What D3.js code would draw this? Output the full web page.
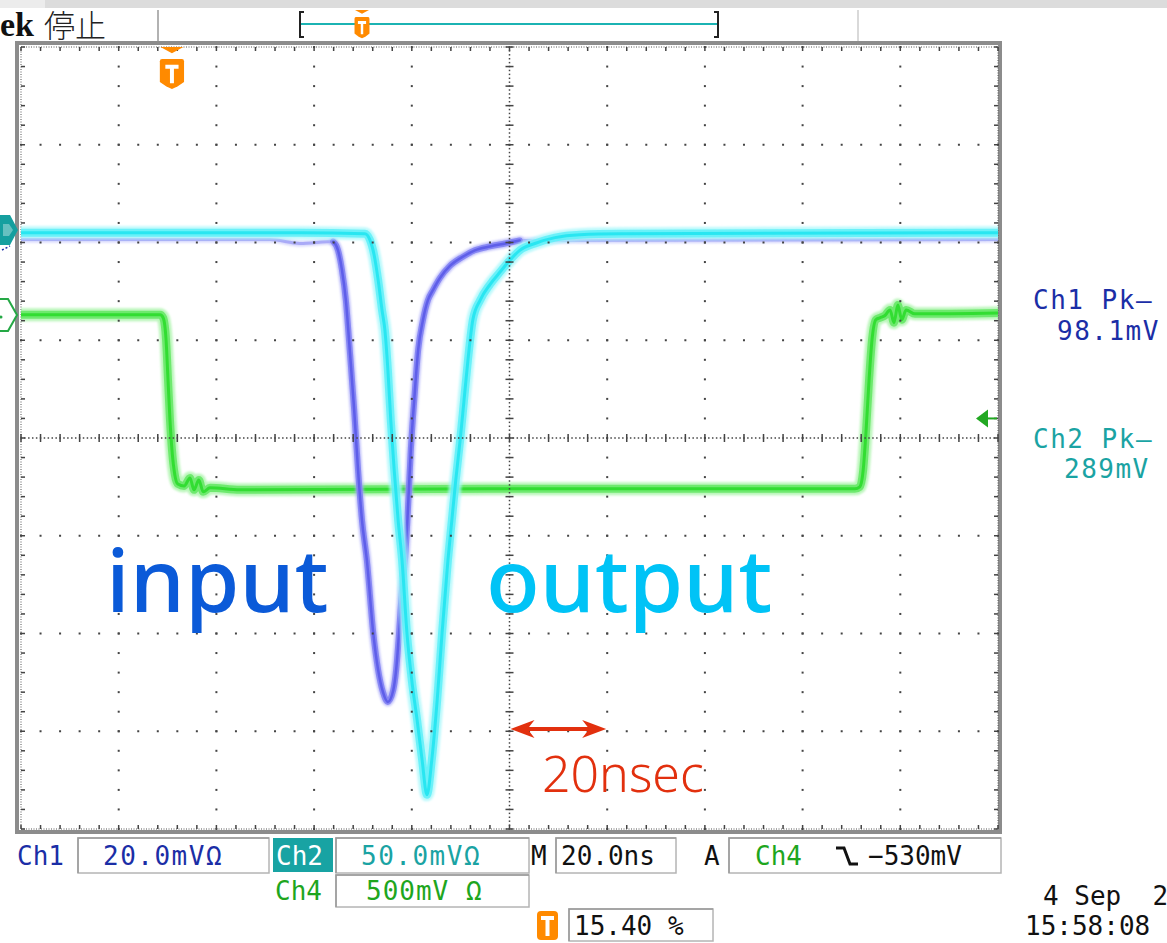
<!DOCTYPE html>
<html><head><meta charset="utf-8">
<script src="https://cdn.jsdelivr.net/npm/d3@7"></script>
<style>body{margin:0;background:#fff;overflow:hidden}svg{display:block}</style>
</head><body>
<script>
// ---- data (time in ns, vertical position in graticule divisions) ----
const ch1Time = [-100,-49,-42.9,-36.1,-35.1,-34.3,-33.5,-32.7,-31.8,-31.0,-30.2,-29.2,-27.9,-26.9,-25.9,-24.9,-23.8,-23.2,-22.6,-22.0,-21.4,-20.8,-20.2,-19.5,-18.7,-17.7,-16.7,-15.7,-14.2,-12.2,-9.7,-7.1,-4.0,-0.9,2.1,100];
const ch1Div  = [2.03,2.03,1.99,2.01,1.92,1.72,1.41,0.90,0.29,-0.33,-0.84,-1.25,-1.99,-2.37,-2.60,-2.70,-2.58,-2.37,-1.99,-1.55,-1.25,-0.74,-0.12,0.39,0.90,1.21,1.41,1.51,1.64,1.76,1.85,1.92,1.96,1.99,2.02,2.03];
const ch2Time = [-100,-42.9,-29.6,-28.6,-27.7,-26.9,-26.1,-25.5,-24.9,-24.3,-23.6,-22.8,-22.0,-21.0,-20.0,-18.9,-17.9,-16.9,-15.9,-14.8,-13.8,-12.6,-11.8,-11.0,-10.1,-9.3,-8.5,-7.5,-6.0,-4.0,-1.9,0.1,2.1,5.2,9.3,14.4,22.6,100];
const ch2Div  = [2.10,2.10,2.09,2.03,1.87,1.62,1.31,1.10,0.70,0.18,-0.33,-0.84,-1.25,-1.99,-2.48,-2.89,-3.29,-3.65,-3.29,-2.68,-1.99,-1.25,-0.84,-0.43,-0.02,0.39,0.80,1.21,1.41,1.57,1.70,1.82,1.92,1.99,2.05,2.08,2.09,2.10];
const ch4Time = [-100,-71.5,-70.9,-70.3,-69.9,-69.5,-69.1,-68.5,-67.9,-66.6,-65.4,-64.6,-63.6,-62.7,-61.3,-55.2,-1.9,70.7,71.7,72.4,73.0,73.6,74.2,75.0,75.8,76.8,77.9,78.7,79.5,80.3,81.2,83.0,100];
const ch4Div  = [1.26,1.26,1.23,1.00,0.59,0.18,-0.12,-0.38,-0.47,-0.49,-0.41,-0.53,-0.43,-0.55,-0.51,-0.53,-0.52,-0.52,-0.50,-0.33,0.08,0.59,1.00,1.21,1.23,1.25,1.31,1.18,1.36,1.21,1.31,1.27,1.28];

const timeDomain = [-100, 100];   // 20 ns/div, 10 div
const divDomain = [-4, 4];        // 8 div
const triggerTime = -69.1;        // trigger position marker
const triggerLevelDiv = 0.2;      // Ch4 trigger level
const ch1PulseWindow = [-37, 3];  // part of the Ch1 trace drawn at full intensity

const settingLabels = {ch1:"20.0mV\u03A9", ch2:"50.0mV\u03A9", ch4:"500mV \u03A9", time:"20.0ns", trig:"\u2212530mV", pos:"15.40 %"};
const measLabels = [["Ch1 Pk\u2013","98.1mV"],["Ch2 Pk\u2013","289mV"]];
const dateLabels = ["4 Sep  2","15:58:08"];
const annotations = ["input","output","20nsec"];

// ---- layout ----
const W = 1167, H = 943;
const gx0 = 21, gx1 = 998, gy0 = 47, gy1 = 829;
const x = d3.scaleLinear().domain(timeDomain).range([gx0, gx1]);
const y = d3.scaleLinear().domain(divDomain).range([gy1, gy0]);

const svg = d3.select("body").append("svg").attr("width", W).attr("height", H);
const defs = svg.append("defs");
defs.append("clipPath").attr("id","grat").append("rect").attr("x",gx0).attr("y",gy0).attr("width",gx1-gx0).attr("height",gy1-gy0);
defs.append("clipPath").attr("id","win").append("rect").attr("x",0).attr("y",0).attr("width",1160).attr("height",H);
defs.append("filter").attr("id","soft").append("feGaussianBlur").attr("stdDeviation",0.9);

// top strip + header
svg.append("rect").attr("x",0).attr("y",0).attr("width",45).attr("height",8).attr("fill","#ececec");
svg.append("rect").attr("x",45).attr("y",0).attr("width",W-45).attr("height",8).attr("fill","#dcdcdc");
svg.append("text").attr("x",0).attr("y",36).attr("font-family","Liberation Serif").attr("font-weight","bold").attr("font-size",34).attr("fill","#111").text("ek");
svg.append("text").attr("x",44).attr("y",37).attr("font-family","Noto Sans CJK JP").attr("font-weight",300).attr("font-size",31).attr("fill","#222").text("停止");
svg.append("line").attr("x1",158).attr("x2",158).attr("y1",10).attr("y2",43).attr("stroke","#999").attr("stroke-width",1.5);
svg.append("line").attr("x1",858).attr("x2",858).attr("y1",10).attr("y2",43).attr("stroke","#ccc").attr("stroke-width",1.5);
svg.append("line").attr("x1",300).attr("x2",718).attr("y1",24).attr("y2",24).attr("stroke","#1bb3b3").attr("stroke-width",2);
svg.append("path").attr("d","M304,12 H300 V37 H304").attr("fill","none").attr("stroke","#222").attr("stroke-width",2);
svg.append("path").attr("d","M714,12 H718 V37 H714").attr("fill","none").attr("stroke","#222").attr("stroke-width",2);

function tMarker(g, cx, top, sx, sy, triW, gap) {
  g.append("path").attr("d",`M${cx-triW},${top} H${cx+triW} L${cx},${top+triW*0.55} Z`).attr("fill","#ff8a00");
  const t2 = top + gap;
  g.append("path").attr("d",`M${cx-11*sx},${t2+2*sy} Q${cx-11*sx},${t2} ${cx-9*sx},${t2} H${cx+9*sx} Q${cx+11*sx},${t2} ${cx+11*sx},${t2+2*sy} V${t2+20*sy} L${cx+5*sx},${t2+24*sy} L${cx},${t2+26*sy} L${cx-5*sx},${t2+24*sy} L${cx-11*sx},${t2+20*sy} Z`).attr("fill","#ff8a00");
  g.append("path").attr("d",`M${cx-6*sx},${t2+5*sy} H${cx+6*sx} V${t2+8.5*sy} H${cx+1.8*sx} V${t2+21*sy} H${cx-1.8*sx} V${t2+8.5*sy} H${cx-6*sx} Z`).attr("fill","#fff");
}
tMarker(svg.append("g"), 362, 10, 0.68, 0.82, 7, 7);

// frame
svg.append("rect").attr("x",17).attr("y",43).attr("width",983).attr("height",789).attr("fill","none").attr("stroke","#8c8c8c").attr("stroke-width",4);
svg.append("rect").attr("x",gx0).attr("y",gy0).attr("width",gx1-gx0).attr("height",gy1-gy0).attr("fill","none").attr("stroke","#555").attr("stroke-width",1).attr("stroke-dasharray","1,1.5");

// ---- traces ----
const line = d3.line().x(d=>x(d[0])).y(d=>y(d[1])).curve(d3.curveMonotoneX);
function layers(data, specs) {
  const g = svg.append("g").attr("clip-path","url(#grat)");
  specs.forEach((s, i) => {
    const p = g.append("path").attr("d",line(data)).attr("fill","none").attr("stroke",s[0]).attr("stroke-width",s[1]).attr("stroke-opacity",s[2]).attr("stroke-linejoin","round").attr("stroke-linecap","round");
    if (i === 0) p.attr("filter","url(#soft)");
  });
}
const ch4Data = ch4Time.map((t,i)=>[t, ch4Div[i]]);
const ch1Data = ch1Time.map((t,i)=>[t, ch1Div[i]]);
const ch2Data = ch2Time.map((t,i)=>[t, ch2Div[i]]);
layers(ch4Data, [["#9cf29c",13,0.7], ["#5be65b",8,0.8], ["#2bdc2b",3,0.9]]);
// Ch1: faint baseline, brighter pulse
layers(ch1Data, [["#b4b4fa",6,0.55], ["#8c8cf4",3,0.6]]);
layers(ch1Data.filter(d => d[0] >= ch1PulseWindow[0] && d[0] <= ch1PulseWindow[1]), [["#a8a8f8",9,0.6], ["#7c7cf2",6,0.85], ["#5252e6",2.5,0.75]]);
layers(ch2Data, [["#a6f7fb",13,0.75], ["#5cf0f8",8,0.85], ["#22e4f0",3,0.9]]);

// ---- graticule dots ----
const gg = svg.append("g").attr("fill","#444");
const minor = d3.range(0, 51).map(i => timeDomain[0] + i*4);
const minorY = d3.range(0, 41).map(i => divDomain[0] + i*0.2);
for (let i = 1; i < 10; i++) {
  if (i === 5) continue;
  const t = timeDomain[0] + i*20;
  minorY.forEach(v => gg.append("rect").attr("x",x(t)-1).attr("y",y(v)-1).attr("width",2).attr("height",2));
}
for (let j = 1; j < 8; j++) {
  if (j === 4) continue;
  const v = divDomain[0] + j;
  minor.forEach(t => gg.append("rect").attr("x",x(t)-1).attr("y",y(v)-1).attr("width",2).attr("height",2));
}
// center lines (dense)
d3.range(0, 251).forEach(i => { const t = timeDomain[0] + i*0.8; gg.append("rect").attr("x",x(t)-0.75).attr("y",y(0)-0.75).attr("width",1.5).attr("height",1.5); });
d3.range(0, 201).forEach(i => { const v = divDomain[0] + i*0.04; gg.append("rect").attr("x",x(0)-0.75).attr("y",y(v)-0.75).attr("width",1.5).attr("height",1.5); });
minor.forEach(t => gg.append("rect").attr("x",x(t)-0.75).attr("y",y(0)-4).attr("width",1.5).attr("height",8));
minorY.forEach(v => gg.append("rect").attr("x",x(0)-4).attr("y",y(v)-0.75).attr("width",8).attr("height",1.5));
// frame ticks
minor.forEach(t => { gg.append("rect").attr("x",x(t)-0.75).attr("y",gy0).attr("width",1.5).attr("height",4); gg.append("rect").attr("x",x(t)-0.75).attr("y",gy1-4).attr("width",1.5).attr("height",4); });
minorY.forEach(v => { gg.append("rect").attr("x",gx0).attr("y",y(v)-0.75).attr("width",4).attr("height",1.5); gg.append("rect").attr("x",gx1-4).attr("y",y(v)-0.75).attr("width",4).attr("height",1.5); });

// trigger position marker
tMarker(svg.append("g"), x(triggerTime), 47, 1.1, 1.15, 11.5, 12);

// channel markers
svg.append("path").attr("d","M0,215 H10 L18,230 L10,245 H0 Z").attr("fill","#159f9f");
svg.append("path").attr("d","M3,224 H9 L13,230 L9,236 H3 Z").attr("fill","#fff").attr("opacity",0.35);
svg.append("line").attr("x1",2).attr("x2",10).attr("y1",250).attr("y2",246).attr("stroke","#2233aa").attr("stroke-width",1.5).attr("stroke-dasharray","2,2");
svg.append("path").attr("d","M-2,299 H8 L17,315 L8,331 H-2").attr("fill","#fff").attr("stroke","#25a845").attr("stroke-width",2);
svg.append("circle").attr("cx",1).attr("cy",317).attr("r",1.5).attr("fill","#25a845");
// trigger level arrow
const ty = y(triggerLevelDiv);
svg.append("path").attr("d",`M976,${ty} L988,${ty-9} L988,${ty+9} Z`).attr("fill","#22a822");
svg.append("line").attr("x1",986).attr("x2",997).attr("y1",ty).attr("y2",ty).attr("stroke","#22a822").attr("stroke-width",2);

// ---- annotations ----
svg.append("text").attr("x",106).attr("y",612).attr("font-family","Noto Sans").attr("font-weight",500).attr("font-size",88).attr("fill","#0b5ad8").text(annotations[0]);
svg.append("text").attr("x",486).attr("y",612).attr("font-family","Noto Sans").attr("font-weight",500).attr("font-size",88).attr("fill","#00c3f6").text(annotations[1]);
const ay = 729, ax0 = x(0), ax1 = x(20);
svg.append("line").attr("x1",ax0+12).attr("x2",ax1-12).attr("y1",ay).attr("y2",ay).attr("stroke","#e2300e").attr("stroke-width",4);
svg.append("path").attr("d",`M${ax0+1},${ay} L${ax0+25},${ay-9} L${ax0+18},${ay} L${ax0+25},${ay+9} Z`).attr("fill","#e2300e");
svg.append("path").attr("d",`M${ax1-1},${ay} L${ax1-25},${ay-9} L${ax1-18},${ay} L${ax1-25},${ay+9} Z`).attr("fill","#e2300e");
svg.append("text").attr("x",542).attr("y",792).attr("font-family","Noto Sans").attr("font-weight",300).attr("font-size",50).attr("fill","#e2300e").text(annotations[2]);

// ---- right measurement readouts ----
const mono = "DejaVu Sans Mono";
const rg = svg.append("g").attr("clip-path","url(#win)").attr("font-family",mono).attr("font-size",26);
rg.append("text").attr("x",1033).attr("y",309).attr("fill","#1b2ea6").attr("letter-spacing",1.5).text(measLabels[0][0]);
rg.append("text").attr("x",1057).attr("y",340).attr("fill","#1b2ea6").attr("letter-spacing",1.5).text(measLabels[0][1]);
rg.append("text").attr("x",1033).attr("y",448).attr("fill","#1aa3a3").attr("letter-spacing",1.5).text(measLabels[1][0]);
rg.append("text").attr("x",1064).attr("y",478).attr("fill","#1aa3a3").attr("letter-spacing",1.5).text(measLabels[1][1]);

// ---- bottom status bar ----
const bg = svg.append("g").attr("font-family",mono).attr("font-size",26);
function box(x0, y0, x1, y1) {
  bg.append("rect").attr("x",x0).attr("y",y0).attr("width",x1-x0).attr("height",y1-y0).attr("fill","#fff").attr("stroke","#b4b4b4").attr("stroke-width",1.5);
  bg.append("path").attr("d",`M${x0},${y1} V${y0} H${x1}`).attr("fill","none").attr("stroke","#9a9a9a").attr("stroke-width",1.5);
}
box(78,838,269,873); box(336,838,529,873); box(556,838,676,873); box(729,838,1001,873);
box(336,875,529,907); box(569,909,713,941);
bg.append("rect").attr("x",273).attr("y",838).attr("width",60).attr("height",34).attr("fill","#18a3a3");
bg.append("text").attr("x",17).attr("y",865).attr("fill","#1b2ea6").text("Ch1");
bg.append("text").attr("x",103).attr("y",865).attr("fill","#1b2ea6").attr("letter-spacing",1.5).text(settingLabels.ch1);
bg.append("text").attr("x",276).attr("y",865).attr("fill","#fff").text("Ch2");
bg.append("text").attr("x",361).attr("y",865).attr("fill","#1aa3a3").attr("letter-spacing",1.5).text(settingLabels.ch2);
bg.append("text").attr("x",531).attr("y",865).attr("fill","#111").text("M");
bg.append("text").attr("x",561).attr("y",865).attr("fill","#111").text(settingLabels.time);
bg.append("text").attr("x",704).attr("y",865).attr("fill","#111").text("A");
bg.append("text").attr("x",755).attr("y",865).attr("fill","#1ea61e").text("Ch4");
bg.append("path").attr("d","M836,848 H844 L850,864 H858").attr("fill","none").attr("stroke","#111").attr("stroke-width",3);
bg.append("text").attr("x",868).attr("y",865).attr("fill","#111").text(settingLabels.trig);
bg.append("text").attr("x",275).attr("y",900).attr("fill","#1ea61e").text("Ch4");
bg.append("text").attr("x",366).attr("y",900).attr("fill","#1ea61e").attr("letter-spacing",1).text(settingLabels.ch4);
// T icon
bg.append("rect").attr("x",537).attr("y",911).attr("width",21).attr("height",29).attr("rx",4).attr("fill","#ff8a00");
bg.append("path").attr("d","M541,916 H554 V920 H549.5 V936 H545.5 V920 H541 Z").attr("fill","#fff");
bg.append("text").attr("x",574).attr("y",935).attr("fill","#111").text(settingLabels.pos);
bg.append("text").attr("x",1043).attr("y",905).attr("fill","#111").attr("xml:space","preserve").style("white-space","pre").text(dateLabels[0]);
bg.append("text").attr("x",1025).attr("y",935).attr("fill","#111").text(dateLabels[1]);
</script>
</body></html>
